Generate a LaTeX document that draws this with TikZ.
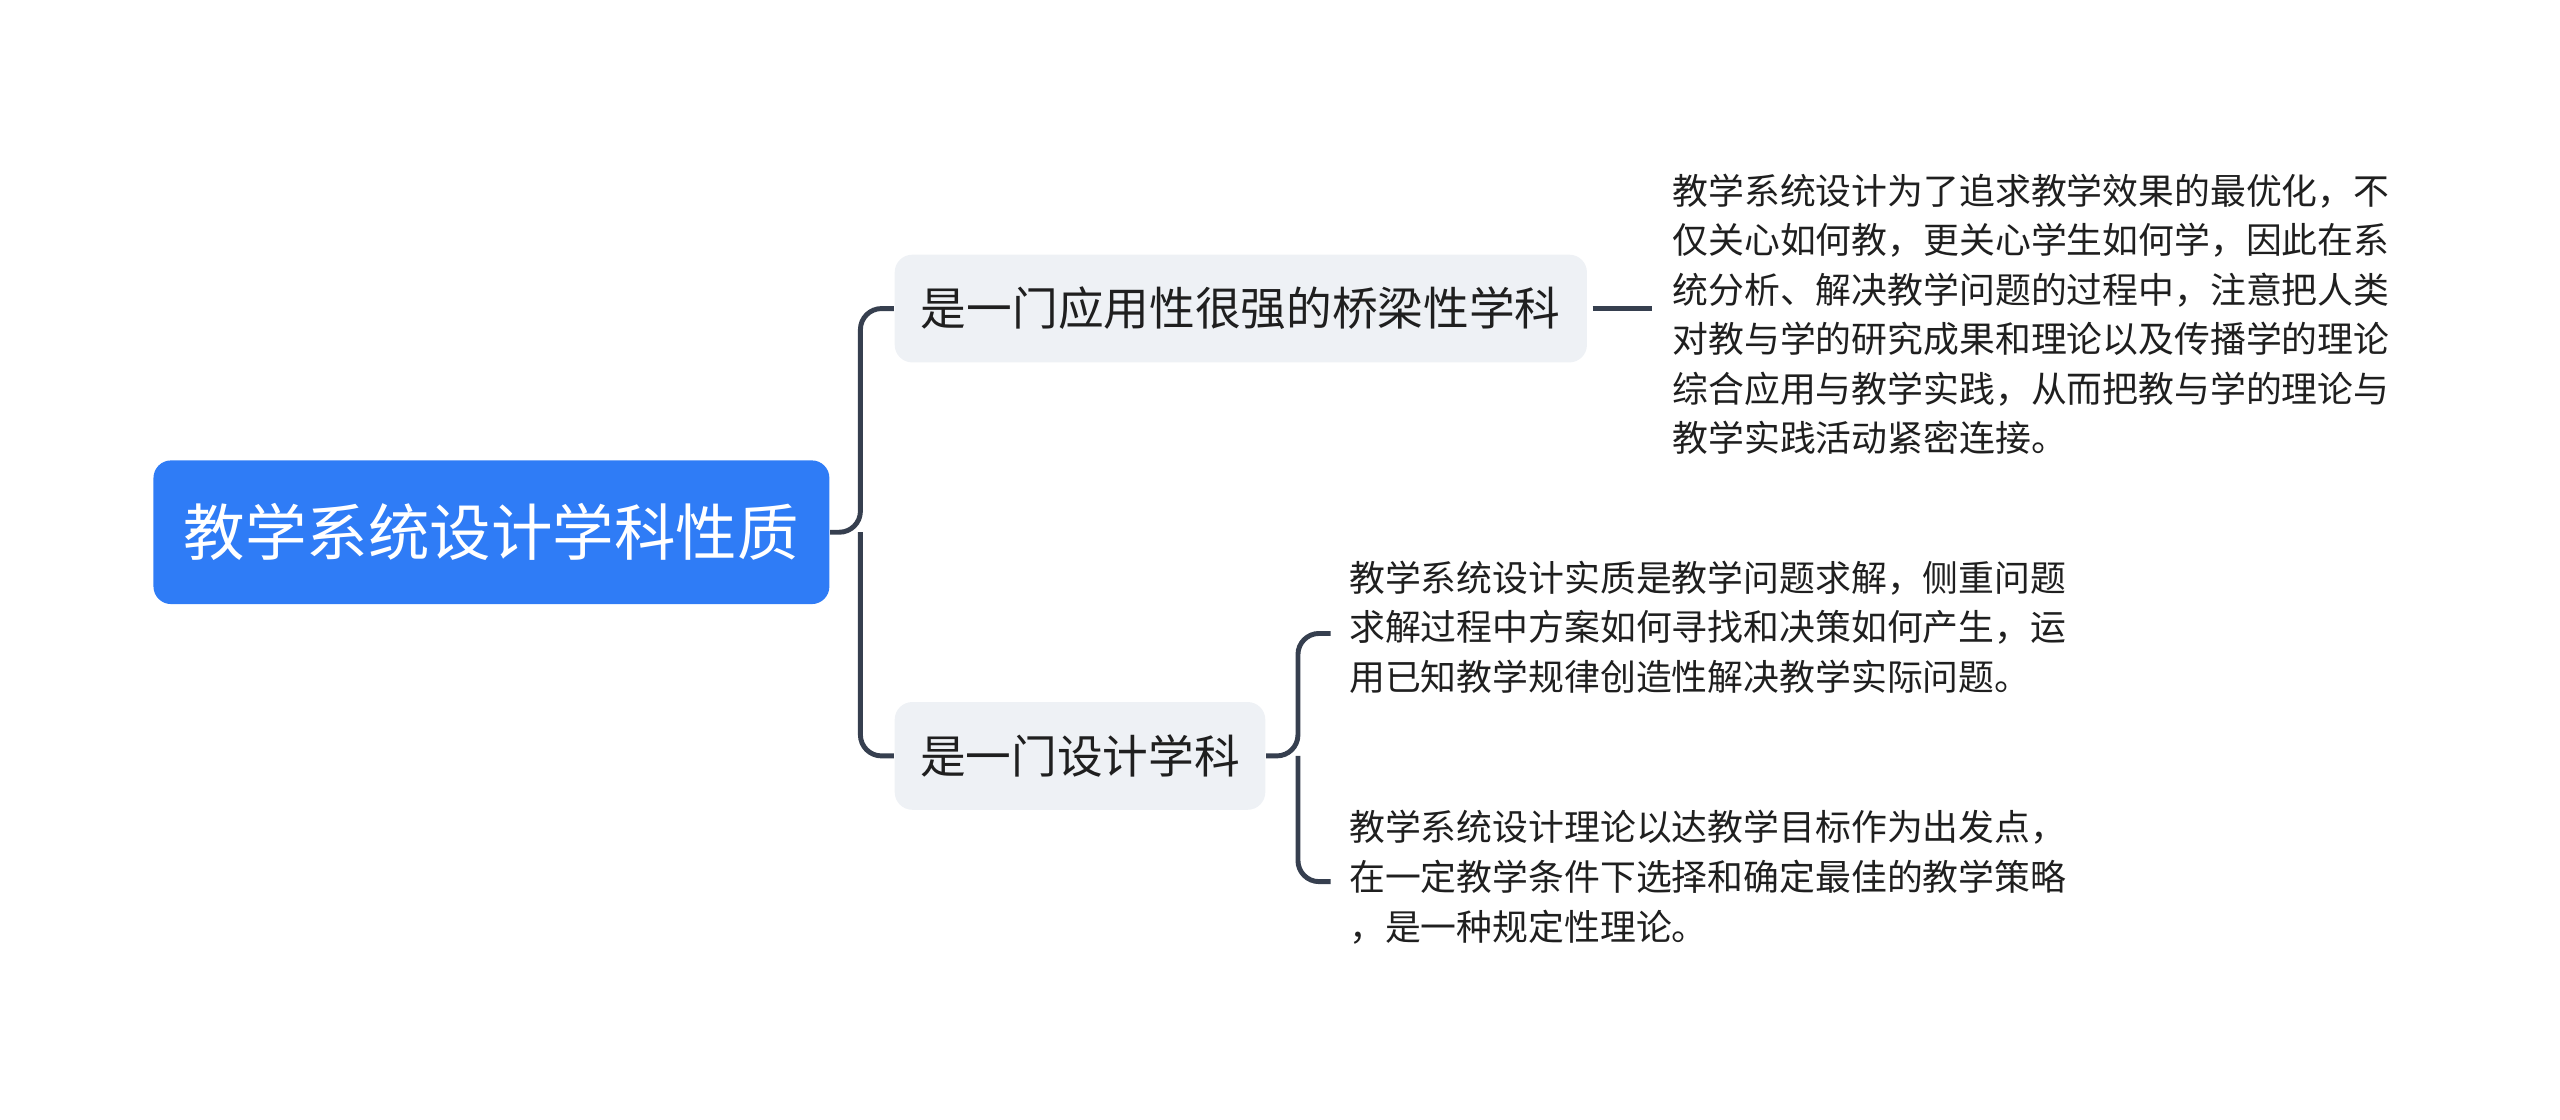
\documentclass[tikz,border=0pt]{standalone}
\usepackage{fontspec}
\usepackage{xcolor}
\usepackage{tikz}
\newfontfamily\cjk{Noto Sans CJK SC}
\definecolor{rootblue}{HTML}{2F7CF6}
\definecolor{boxgray}{HTML}{EEF1F5}
\definecolor{linedark}{HTML}{363F4F}
\definecolor{textdark}{HTML}{1F1F1F}
\tikzset{
  rootbox/.style={fill=rootblue,rounded corners=5pt,text=white,font=\cjk\fontsize{17.5}{20}\selectfont,minimum width=414*0.01633cm,minimum height=88*0.01633cm},
  topicbox/.style={fill=boxgray,rounded corners=5pt,text=textdark,font=\cjk\fontsize{13}{16}\selectfont,minimum height=66*0.01633cm,inner xsep=0pt},
  leaftext/.style={align=left,text=textdark,font=\cjk\fontsize{10.2}{14.1}\selectfont,inner sep=0pt},
  link/.style={draw=linedark,line width=1.4pt,rounded corners=6pt}
}
\begin{document}
\begin{tikzpicture}[x=0.01633cm,y=-0.01633cm]
\useasboundingbox (0,0) rectangle (1568,686);

% root
\node[rootbox] (root) at (301,326) {教学系统设计学科性质};

% topics
\node[topicbox,minimum width=424*0.01633cm] (t1) at (760,189) {是一门应用性很强的桥梁性学科};
\node[topicbox,minimum width=227*0.01633cm] (t2) at (661.5,463) {是一门设计学科};

% leaves
\node[leaftext,anchor=north west] (l1) at (1024,106) {教学系统设计为了追求教学效果的最优化，不\\仅关心如何教，更关心学生如何学，因此在系\\统分析、解决教学问题的过程中，注意把人类\\对教与学的研究成果和理论以及传播学的理论\\综合应用与教学实践，从而把教与学的理论与\\教学实践活动紧密连接。};
\node[leaftext,anchor=north west] (l2) at (826,343) {教学系统设计实质是教学问题求解，侧重问题\\求解过程中方案如何寻找和决策如何产生，运\\用已知教学规律创造性解决教学实际问题。};
\node[leaftext,anchor=north west] (l3) at (826,496) {教学系统设计理论以达教学目标作为出发点，\\在一定教学条件下选择和确定最佳的教学策略\\，是一种规定性理论。};

% links
\coordinate (j1) at (527,326);
\draw[link] (root.east) -- (j1) |- (t1.west);
\draw[link] (j1) |- (t2.west);
\draw[link] (t1.east) ++(3,0) -- (1012,189);
\coordinate (j2) at (795,463);
\draw[link] (t2.east) -- (j2) |- (815,388);
\draw[link] (j2) |- (815,540);
\end{tikzpicture}
\end{document}
